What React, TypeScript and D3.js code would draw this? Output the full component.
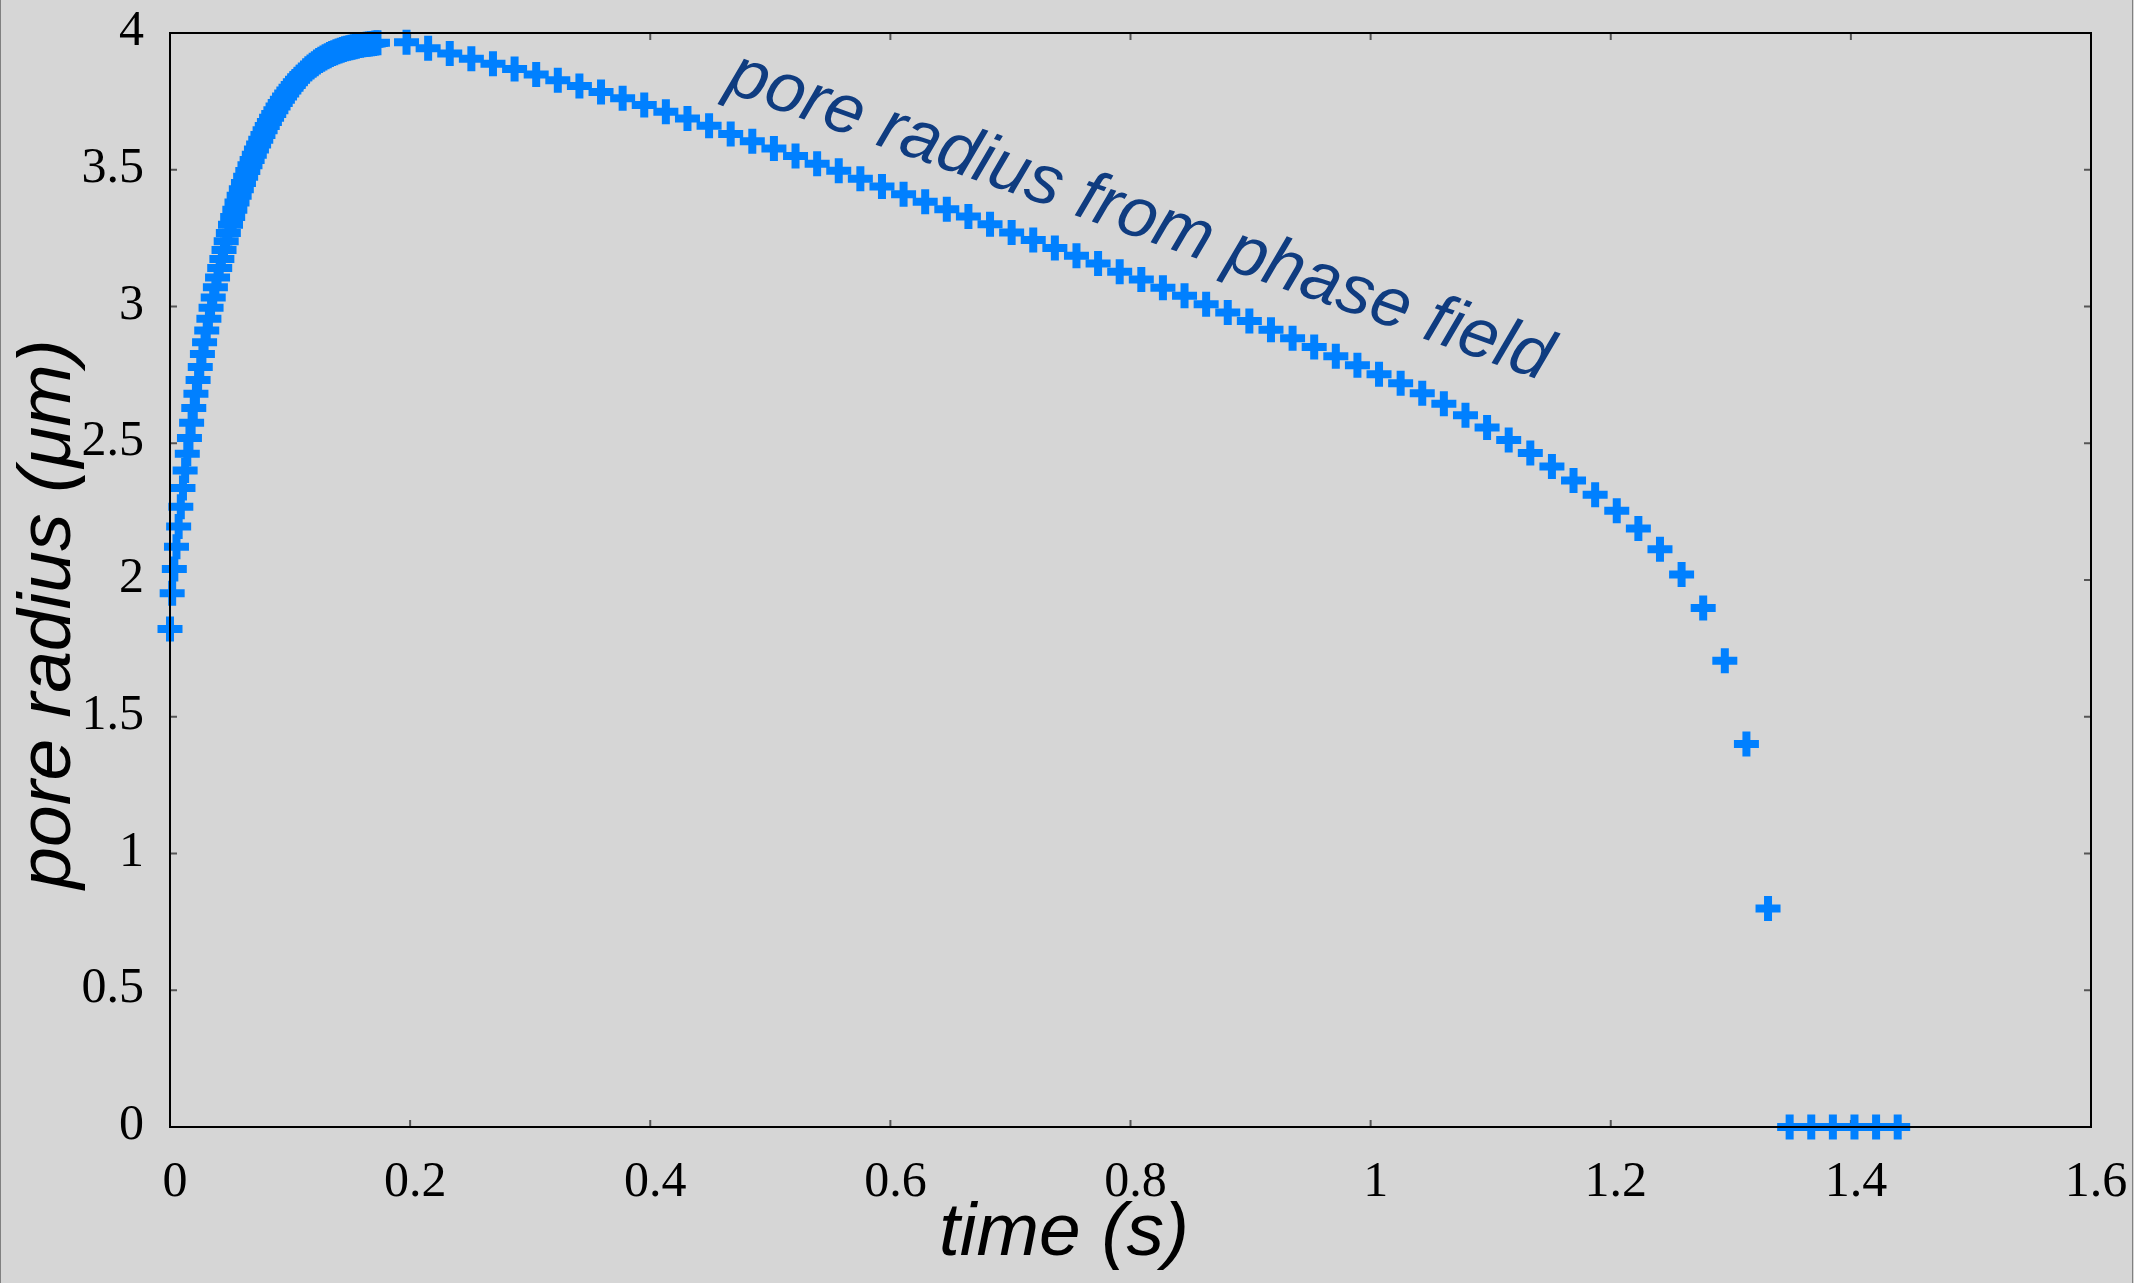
import React, { useEffect, useRef } from 'react';
import * as d3 from 'd3';

const WIDTH = 2134;
const HEIGHT = 1283;

// output every 0.0018 s while the pore grows
const fineStep = 0.0018;
const fineRadius = [
  1.821, 1.952, 2.040, 2.122, 2.196, 2.268, 2.336, 2.400, 2.462, 2.519,
  2.575, 2.629, 2.681, 2.731, 2.779, 2.826, 2.869, 2.912, 2.955, 2.995,
  3.033, 3.070, 3.106, 3.141, 3.174, 3.207, 3.239, 3.269, 3.299, 3.327,
  3.354, 3.380, 3.405, 3.429, 3.452, 3.474, 3.495, 3.516, 3.536, 3.555,
  3.574, 3.592, 3.610, 3.627, 3.644, 3.660, 3.675, 3.690, 3.704, 3.718,
  3.731, 3.744, 3.756, 3.768, 3.779, 3.790, 3.800, 3.810, 3.820, 3.829,
  3.838, 3.846, 3.854, 3.862, 3.869, 3.876, 3.882, 3.888, 3.894, 3.899,
  3.904, 3.909, 3.913, 3.917, 3.921, 3.925, 3.928, 3.931, 3.934, 3.937,
  3.940, 3.942, 3.944, 3.946, 3.948, 3.950, 3.952, 3.954, 3.955, 3.957,
  3.958, 3.959, 3.960, 3.961, 3.962, 3.963, 3.964,
];

// then every 0.018 s while it shrinks
const coarseStart = 0.197;
const coarseStep = 0.018;
const coarseRadius = [
  3.966, 3.944, 3.925, 3.906, 3.888, 3.868, 3.848, 3.827, 3.806, 3.784,
  3.761, 3.737, 3.712, 3.687, 3.661, 3.631, 3.604, 3.578, 3.550, 3.522,
  3.496, 3.467, 3.439, 3.410, 3.383, 3.356, 3.329, 3.301, 3.271, 3.243,
  3.214, 3.186, 3.157, 3.127, 3.099, 3.069, 3.039, 3.008, 2.978, 2.947,
  2.915, 2.884, 2.852, 2.818, 2.785, 2.752, 2.719, 2.683, 2.644, 2.602,
  2.558, 2.512, 2.464, 2.415, 2.364, 2.312, 2.253, 2.188, 2.112, 2.020,
  1.898, 1.705, 1.400, 0.799, 0, 0, 0, 0, 0, 0,
];

const xTicks = [0, 0.2, 0.4, 0.6, 0.8, 1, 1.2, 1.4, 1.6];
const xTickLabels = ['0', '0.2', '0.4', '0.6', '0.8', '1', '1.2', '1.4', '1.6'];
const yTicks = [0, 0.5, 1, 1.5, 2, 2.5, 3, 3.5, 4];
const yTickLabels = ['0', '0.5', '1', '1.5', '2', '2.5', '3', '3.5', '4'];

const seriesLabel = 'pore radius from phase field';

const App = () => {
  const svgRef = useRef(null);

  useEffect(() => {
    const svg = d3.select(svgRef.current);
    svg.selectAll('*').remove();

    const left = 170, right = 2091, top = 33, bottom = 1127;

    const x = d3.scaleLinear().domain([0, 1.6]).range([left, right]);
    const y = d3.scaleLinear().domain([0, 4]).range([bottom, top]);

    const points = [
      ...fineRadius.map((r, i) => ({ t: i * fineStep, r })),
      ...coarseRadius.map((r, i) => ({ t: coarseStart + i * coarseStep, r })),
    ];

    svg.append('rect')
      .attr('width', WIDTH)
      .attr('height', HEIGHT)
      .attr('fill', '#d6d6d6');

    // thin page edges
    [0.5, WIDTH - 1.5].forEach((px) => {
      svg.append('line')
        .attr('x1', px).attr('x2', px)
        .attr('y1', 0).attr('y2', HEIGHT)
        .attr('stroke', '#808080')
        .attr('stroke-width', 1);
    });

    // ticks, mirrored on all sides, pointing inward
    const tickLen = 7;
    const ticks = svg.append('g').attr('stroke', '#555').attr('stroke-width', 2);
    xTicks.forEach((v) => {
      ticks.append('line').attr('x1', x(v)).attr('x2', x(v)).attr('y1', bottom).attr('y2', bottom - tickLen);
      ticks.append('line').attr('x1', x(v)).attr('x2', x(v)).attr('y1', top).attr('y2', top + tickLen);
    });
    yTicks.forEach((v) => {
      ticks.append('line').attr('x1', left).attr('x2', left + tickLen).attr('y1', y(v)).attr('y2', y(v));
      ticks.append('line').attr('x1', right).attr('x2', right - tickLen).attr('y1', y(v)).attr('y2', y(v));
    });

    svg.append('g')
      .attr('font-family', '"Liberation Serif", "Times New Roman", serif')
      .attr('font-size', 50)
      .attr('fill', '#000')
      .attr('text-anchor', 'middle')
      .selectAll('text')
      .data(xTicks)
      .join('text')
      .attr('x', (d) => x(d) + 5)
      .attr('y', bottom + 69)
      .text((d, i) => xTickLabels[i]);

    svg.append('g')
      .attr('font-family', '"Liberation Serif", "Times New Roman", serif')
      .attr('font-size', 50)
      .attr('fill', '#000')
      .attr('text-anchor', 'end')
      .selectAll('text')
      .data(yTicks)
      .join('text')
      .attr('x', 144)
      .attr('y', (d) => y(d) + 12)
      .text((d, i) => yTickLabels[i]);

    // plus markers
    svg.append('g')
      .selectAll('path')
      .data(points)
      .join('path')
      .attr('transform', (d) => `translate(${x(d.t)},${y(d.r)})`)
      .attr('d', 'M-12.5,0H12.5M0,-12.5V12.5')
      .attr('stroke', '#0080ff')
      .attr('stroke-width', 8)
      .attr('fill', 'none');

    svg.append('rect')
      .attr('x', left)
      .attr('y', top)
      .attr('width', right - left)
      .attr('height', bottom - top)
      .attr('fill', 'none')
      .attr('stroke', '#000')
      .attr('stroke-width', 2);

    svg.append('text')
      .attr('transform', 'translate(724,91) rotate(19.5)')
      .attr('font-family', '"Liberation Sans", Arial, sans-serif')
      .attr('font-style', 'italic')
      .attr('font-size', 70)
      .attr('fill', '#0f3c80')
      .text(seriesLabel);

    svg.append('text')
      .attr('x', 1064)
      .attr('y', 1255)
      .attr('text-anchor', 'middle')
      .attr('font-family', '"Liberation Sans", Arial, sans-serif')
      .attr('font-style', 'italic')
      .attr('font-size', 75)
      .attr('fill', '#000')
      .text('time (s)');

    svg.append('text')
      .attr('transform', 'translate(70,614) rotate(-90)')
      .attr('text-anchor', 'middle')
      .attr('font-family', '"Liberation Sans", Arial, sans-serif')
      .attr('font-style', 'italic')
      .attr('font-size', 75)
      .attr('fill', '#000')
      .text('pore radius (μm)');
  }, []);

  return (
    <>
      <style>{'body{margin:0}'}</style>
      <svg ref={svgRef} width={WIDTH} height={HEIGHT} style={{ display: 'block' }}></svg>
    </>
  );
};

export default App;
